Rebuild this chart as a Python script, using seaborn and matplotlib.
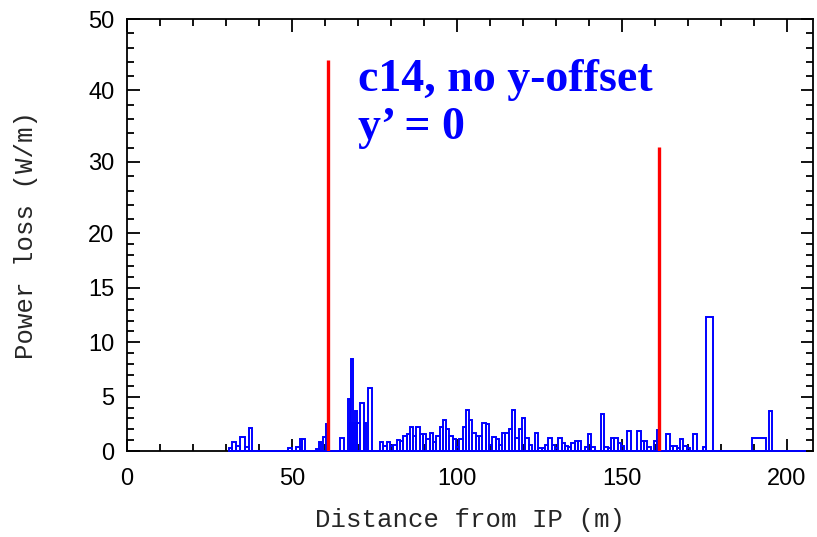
import numpy as np
import pandas as pd
import seaborn as sns
import matplotlib.pyplot as plt
from matplotlib.ticker import FixedLocator, MultipleLocator

# Bin edges along the beamline (m) and power loss per bin (W/m)
edges = [30.8, 31.8, 33.0, 34.4, 35.7, 36.9, 37.9, 48.9, 49.9, 51.2, 52.4, 53.0,
         54.0, 57.3, 58.3, 58.9, 59.5, 60.3, 60.7, 64.5, 65.8, 67.0, 67.6, 68.0,
         68.5, 69.2, 69.8, 70.6, 71.8, 72.4, 73.0, 74.2,
         76.75, 77.75, 78.75, 79.75, 80.75, 81.75, 82.75, 83.75, 84.75, 85.75,
         86.75, 87.75, 88.75, 89.75, 90.75, 91.75, 92.75, 93.75, 94.75, 95.75,
         96.75, 97.75, 98.75, 99.75, 100.75, 101.75, 102.75, 103.75, 104.75, 105.75,
         106.75, 107.75, 108.75, 109.75, 110.75, 111.75, 112.75, 113.75, 114.75, 115.75,
         116.75, 117.75, 118.75, 119.75, 120.75, 121.75, 122.75, 123.75, 124.75, 125.75,
         126.75, 127.75, 128.75, 129.75, 130.75, 131.75, 132.75, 133.75, 134.75, 135.75,
         136.75, 137.75, 138.75, 139.75, 140.75, 141.75, 142.75, 143.75, 144.75, 145.75,
         146.75, 147.75, 148.75, 149.75, 150.75, 151.75, 152.75, 153.75, 154.75, 155.75,
         156.75, 157.75, 158.75, 159.75, 160.75,
         161.2, 163.5, 164.7, 165.7, 166.7, 167.7, 168.7, 169.7, 170.7, 171.6,
         172.8, 174.6, 175.6, 177.8, 189.6, 193.8, 194.6, 195.6, 206.0]

power = [0.3, 0.8, 0.5, 1.3, 0.4, 2.1, 0, 0.3, 0, 0.4, 1.1,
         1.1, 0, 0.2, 0.8, 0, 1.3, 2.5, 0, 1.2, 0, 4.8, 2.6,
         8.5, 2.6, 3.65, 2.6, 4.4, 2.6, 0, 5.8, 0,
         0.8, 0.5, 0.8, 0.5, 0.55, 1.0, 0.9, 1.4, 1.6,
         2.2, 1.4, 2.2, 1.6, 1.6, 1.1, 1.7, 0.86, 1.4, 2.24,
         2.86, 2.0, 1.38, 1.07, 0.4, 1.07, 2.24, 3.78, 2.86, 1.7,
         1.4, 1.4, 2.55, 2.5, 0.55, 1.3, 1.07, 0.55, 1.7, 1.7,
         2.03, 3.78, 1.17, 2.0, 3.07, 1.17, 0.55, 0, 1.7, 0.25,
         0.25, 0.55, 1.17, 0.55, 0.25, 1.23, 0.77, 0.46, 0.36, 0.7,
         0.92, 0.92, 0, 0.36, 1.54, 0.36, 0, 0, 3.38, 0.36,
         0.3, 1.23, 1.23, 0.7, 0.46, 0, 1.85, 0, 0, 1.85,
         0.92, 0.92, 0.36, 0, 0.92,
         1.9, 0, 1.54, 0.46, 0.46, 0.3, 1.08, 0.46, 0.3, 0,
         1.54, 0, 0.36, 12.3, 0, 1.23, 0, 3.7, 0]

# Red markers (collimator positions) and their heights
marker_pos = [60.9, 161.2]
marker_top = [44.3, 32.1]

y_major = [0, 5, 10, 15, 20, 30, 40, 50]

edges_arr = np.array(edges)
df = pd.DataFrame({"s": (edges_arr[:-1] + edges_arr[1:]) / 2, "w": power})

sns.set_theme(style="ticks")
plt.rcParams["font.family"] = ["Liberation Sans", "DejaVu Sans"]

fig = plt.figure(figsize=(8.17, 5.37), dpi=100)
ax = fig.add_axes([0.1555, 0.160, 0.8396, 0.8046])

# y axis: linear 0-20, compressed 20-50
k = 0.657
def fwd(y):
    y = np.asarray(y, dtype=float)
    return np.where(y <= 20, y, 20 + (y - 20) * k)

def inv(u):
    u = np.asarray(u, dtype=float)
    return np.where(u <= 20, u, 20 + (u - 20) / k)

sns.histplot(data=df, x="s", weights="w", bins=edges, element="bars",
             fill=False, color="blue", linewidth=1.4, ax=ax)
for p in ax.patches:
    p.set_zorder(3)
    p.set_clip_on(False)
ax.vlines(marker_pos, 0, marker_top, colors="red", linewidth=2.4, zorder=4)

ax.set_yscale("function", functions=(fwd, inv))
ax.set_xlim(0, 208)
ax.set_ylim(0, 50)

ax.yaxis.set_major_locator(FixedLocator(y_major))
ax.yaxis.set_minor_locator(FixedLocator(list(range(0, 20)) + list(range(20, 51, 2))))
ax.xaxis.set_major_locator(MultipleLocator(50))
ax.xaxis.set_minor_locator(MultipleLocator(10))
ax.set_yticklabels([str(v) for v in y_major])

ax.tick_params(which="both", direction="in", top=True, right=True,
               colors="black", width=1.3)
ax.tick_params(which="major", length=9, labelsize=17)
ax.tick_params(axis="x", which="major", pad=12)
ax.tick_params(axis="y", which="major", pad=9)
ax.tick_params(which="minor", length=5)
for sp in ax.spines.values():
    sp.set_visible(True)
    sp.set_linewidth(1.3)
    sp.set_color("black")

ax.set_xlabel("Distance from IP (m)", family="Liberation Mono", fontsize=18.5, labelpad=13)
ax.set_ylabel("Power loss (W/m)", family="Liberation Mono", fontsize=18.5, labelpad=36)

title_kw = dict(transform=ax.transAxes, color="blue", family="Liberation Serif",
                fontweight="bold", fontsize=33, va="baseline", ha="left")
ax.text(0.337, 0.833, "c14, no y-offset", **title_kw)
ax.text(0.337, 0.722, "y\u2019 = 0", **title_kw)

fig.savefig("out.png", dpi=100)
